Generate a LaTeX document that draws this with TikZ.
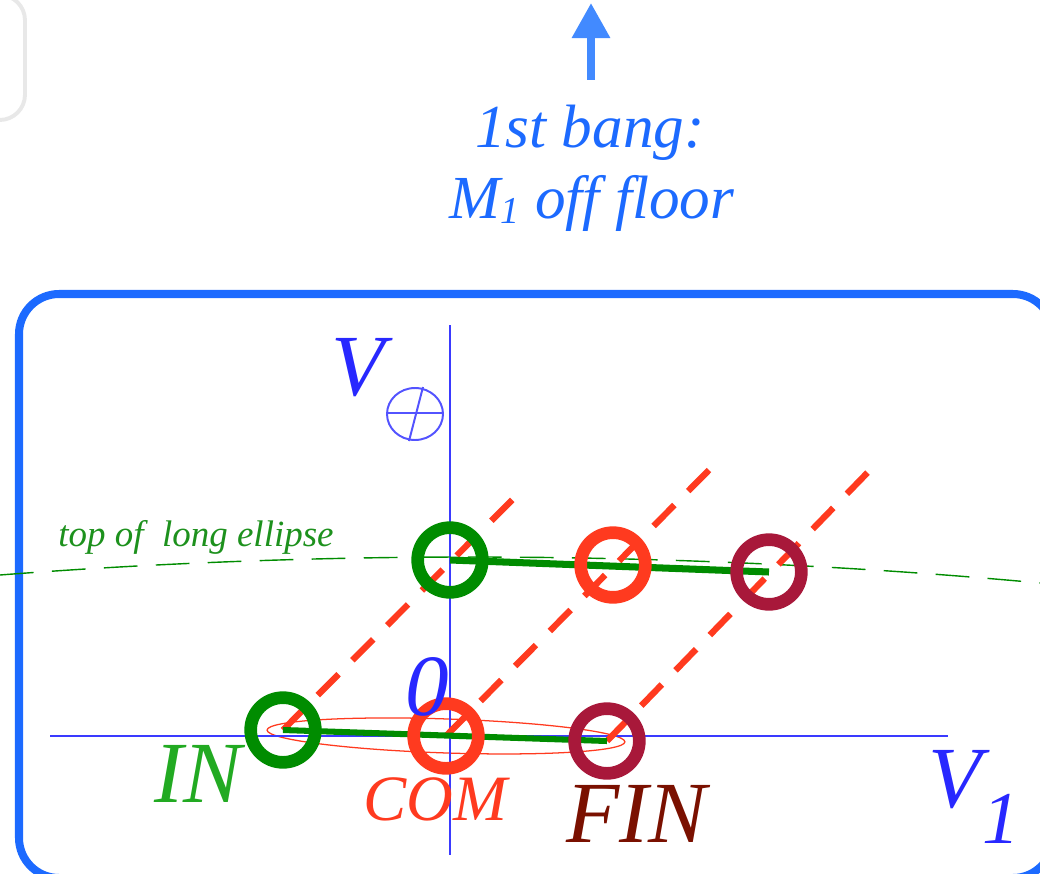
\documentclass[tikz,border=0pt]{standalone}
\usepackage{fontspec}
\setmainfont{Liberation Serif}
\usetikzlibrary{arrows.meta}
\definecolor{frameblue}{RGB}{28,106,255}
\definecolor{arrowblue}{RGB}{66,138,255}
\definecolor{axisblue}{RGB}{58,58,255}
\definecolor{labelblue}{RGB}{40,40,255}
\definecolor{ringgreen}{RGB}{0,140,0}
\definecolor{textgreen}{RGB}{34,170,34}
\definecolor{ringred}{RGB}{255,58,31}
\definecolor{ringmaroon}{RGB}{168,24,58}
\definecolor{finbrown}{RGB}{122,16,0}

\begin{document}
\begin{tikzpicture}[x=0.025cm,y=-0.025cm,
  ring/.style={circle,draw=#1,line width=9pt,minimum size=46pt,inner sep=0pt},
  reddash/.style={ringred,line width=4.5pt,dash pattern=on 21pt off 14pt},
  big/.style={font=\itshape\fontsize{62}{62}\selectfont,inner sep=0pt,anchor=base west}]
  \useasboundingbox (0,0) rectangle (1040,874);
  \clip (0,0) rectangle (1040,874);
  \draw[black!9,line width=2.8pt,rounded corners=18pt] (-100,-5) rectangle (25,120);
  \draw[frameblue,line width=5.7pt,rounded corners=28.5pt] (19,294) rectangle (1053,878);

  \node[frameblue,font=\itshape\fontsize{43.5}{43.5}\selectfont,inner sep=0pt,anchor=base] (bang) at (590,148) {1st bang:};
  \node[frameblue,font=\itshape\fontsize{43.5}{43.5}\selectfont,inner sep=0pt,anchor=base] (floor) at (592,218)
    {M{\fontsize{27}{27}\selectfont\raisebox{-4pt}{1}} off floor};
  \coordinate (tail) at (591,80);
  \coordinate (tip) at (591,3);
  \draw[arrowblue,line width=5.7pt,-{Triangle[length=25pt,width=26pt]}] (tail) -- (tip);

  \coordinate (in) at (283,730);
  \coordinate (com) at (446,736);
  \coordinate (fin) at (607,741);
  \coordinate (inup) at (450,560);
  \coordinate (comup) at (613,565);
  \coordinate (finup) at (769,572);
  \coordinate (intop) at (517,495);
  \coordinate (comtop) at (709,470);
  \coordinate (fintop) at (871,469);

  \draw[ringred,line width=0.9pt,rotate around={-1.9:(com)}] (com) ellipse [x radius=179, y radius=17];
  \draw[axisblue,line width=2.1pt] (50,736) -- (948,736);
  \draw[axisblue,line width=2.1pt] (450,325) -- (450,855);
  \draw[green!55!black,line width=1pt,dash pattern=on 24pt off 13pt] (0,575) parabola bend (470,557) (1040,583);
  \node[textgreen!85!black,font=\itshape\fontsize{26.3}{26.3}\selectfont,inner sep=0pt,anchor=base west] (toplabel) at (58,546) {top of\ \ long ellipse};

  \draw[reddash] (in) -- (intop);
  \draw[reddash] (com) -- (comtop);
  \draw[reddash] (fin) -- (fintop);
  \draw[ringgreen,line width=4.3pt] (in) -- (fin);
  \draw[ringgreen,line width=5pt] (inup) -- (finup);

  \node[ring=ringgreen] (inring) at (in) {};
  \node[ring=ringred] (comring) at (com) {};
  \node[ring=ringmaroon] (finring) at (fin) {};
  \node[ring=ringgreen] (inupring) at (inup) {};
  \node[ring=ringred] (comupring) at (comup) {};
  \node[ring=ringmaroon] (finupring) at (finup) {};

  \node[big,labelblue] (vplus) at (331,395) {V};
  \draw[labelblue!80,line width=1.4pt] (415,414) ellipse [x radius=28, y radius=26];
  \draw[labelblue!80,line width=1.4pt] (387,413) -- (443,413);
  \draw[labelblue!80,line width=1.4pt] (423,387) -- (409,441);
  \node[big,labelblue] (zero) at (405,715) {0};
  \node[big,labelblue] (vone) at (928,807) {V};
  \node[big,labelblue,font=\itshape\fontsize{53}{53}\selectfont] (one) at (982,843) {1};
  \node[big,textgreen] (inlabel) at (154,802) {IN};
  \node[big,ringred,font=\itshape\fontsize{46}{46}\selectfont] (comlabel) at (363,820) {COM};
  \node[big,finbrown] (finlabel) at (566,842) {FIN};
\end{tikzpicture}
\end{document}
